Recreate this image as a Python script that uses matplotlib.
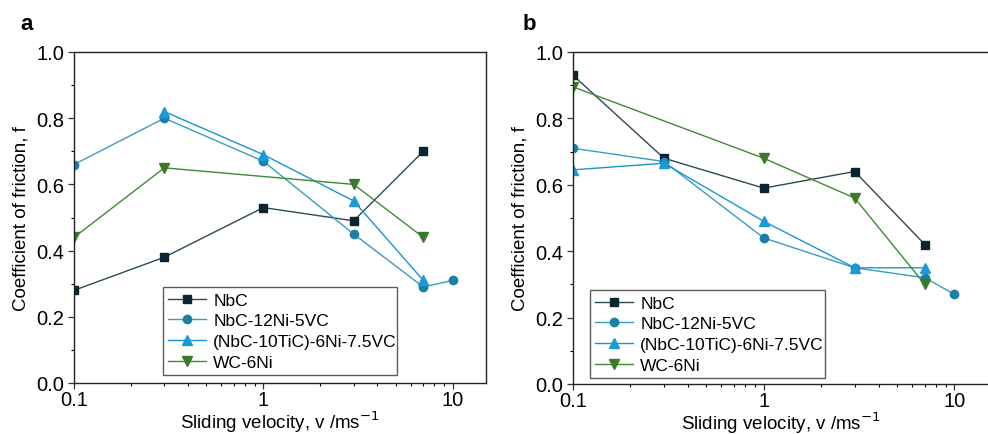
import matplotlib.pyplot as plt
from matplotlib.ticker import MultipleLocator, FixedLocator, NullFormatter

plt.rcParams['font.family'] = ['Liberation Sans', 'DejaVu Sans']
plt.rcParams['xtick.direction'] = 'out'
plt.rcParams['ytick.direction'] = 'out'

labels = ['NbC', 'NbC-12Ni-5VC', '(NbC-10TiC)-6Ni-7.5VC', 'WC-6Ni']

# panel a
a_nbc_x = [0.1, 0.3, 1, 3, 7]
a_nbc_y = [0.28, 0.38, 0.53, 0.49, 0.70]
a_ni_x = [0.1, 0.3, 1, 3, 7, 10]
a_ni_y = [0.66, 0.80, 0.67, 0.45, 0.29, 0.31]
a_tic_x = [0.3, 1, 3, 7]
a_tic_y = [0.82, 0.69, 0.55, 0.31]
a_wc_x = [0.1, 0.3, 3, 7]
a_wc_y = [0.44, 0.65, 0.60, 0.44]

# panel b
b_nbc_x = [0.1, 0.3, 1, 3, 7]
b_nbc_y = [0.93, 0.68, 0.59, 0.64, 0.42]
b_ni_x = [0.1, 0.3, 1, 3, 7, 10]
b_ni_y = [0.71, 0.67, 0.44, 0.35, 0.32, 0.27]
b_tic_x = [0.1, 0.3, 1, 3, 7]
b_tic_y = [0.645, 0.665, 0.49, 0.35, 0.35]
b_wc_x = [0.1, 1, 3, 7]
b_wc_y = [0.895, 0.68, 0.56, 0.30]

styles = [
    dict(color='#2c4a55', marker='s', ms=5.5, mfc='#0b2530', mec='#0b2530'),
    dict(color='#3b9cc2', marker='o', ms=6.0, mfc='#1a80a8', mec='#1a80a8'),
    dict(color='#1a95d0', marker='^', ms=6.5, mfc='#1a9ad6', mec='#1a9ad6'),
    dict(color='#3f8a35', marker='v', ms=6.5, mfc='#3a7a2a', mec='#3a7a2a'),
]

fig = plt.figure(figsize=(9.88, 4.35), dpi=100)
axa = fig.add_axes([74/988, 1-384/435, 412/988, 331/435])
axb = fig.add_axes([573/988, 1-385/435, 415/988, 332/435])

panels = [
    (axa, [(a_nbc_x, a_nbc_y), (a_ni_x, a_ni_y), (a_tic_x, a_tic_y), (a_wc_x, a_wc_y)],
     'a', (163, 286, 397, 376)),
    (axb, [(b_nbc_x, b_nbc_y), (b_ni_x, b_ni_y), (b_tic_x, b_tic_y), (b_wc_x, b_wc_y)],
     'b', (590, 289, 825, 379)),
]

for ax, series, tag, box in panels:
    for (x, y), st, lab in zip(series, styles, labels):
        ax.plot(x, y, lw=1.0, label=lab, **st)
    ax.set_xscale('log')
    ax.set_xlim(0.1, 15)
    ax.set_ylim(0, 1.0)
    ax.xaxis.set_major_locator(FixedLocator([0.1, 1, 10]))
    ax.set_xticklabels(['0.1', '1', '10'])
    ax.xaxis.set_minor_formatter(NullFormatter())
    ax.yaxis.set_major_locator(MultipleLocator(0.2))
    ax.yaxis.set_minor_locator(MultipleLocator(0.1))
    ax.yaxis.set_major_formatter(plt.FuncFormatter(lambda v, p: '%.1f' % v))
    ax.tick_params(labelsize=14.5, length=4, width=0.9, color='#333333', pad=3)
    ax.tick_params(axis='x', pad=1)
    ax.tick_params(which='minor', length=2.5, width=0.8)
    for s in ax.spines.values():
        s.set_linewidth(1.0)
        s.set_color('#222222')
    ax.set_xlabel('Sliding velocity, v /ms$^{-1}$', fontsize=13.5, labelpad=0)
    ax.set_ylabel('Coefficient of friction, f', fontsize=13.5, labelpad=5)
    x0, y0, x1, y1 = box
    pos = ax.get_position()
    fw, fh = 988, 435
    bx = (x0/fw - pos.x0) / pos.width
    by = ((1 - y1/fh) - pos.y0) / pos.height
    bw = (x1 - x0) / fw / pos.width
    bh = (y1 - y0) / fh / pos.height
    leg = ax.legend(loc='lower left', bbox_to_anchor=(bx, by, bw, bh), mode='expand',
                    fontsize=12.5, frameon=True, fancybox=False, borderaxespad=0,
                    handlelength=2.2, handletextpad=0.4, labelspacing=0.32,
                    borderpad=0.3)
    leg.get_frame().set_edgecolor('#333333')
    leg.get_frame().set_linewidth(1.0)

# panel b is cut at the right edge in the original
axb.spines['right'].set_visible(False)

fig.text(20/988, 1-25/435, 'a', fontsize=16, fontweight='bold', va='center')
fig.text(523/988, 1-25/435, 'b', fontsize=16, fontweight='bold', va='center')

fig.savefig('out.png', dpi=100)
